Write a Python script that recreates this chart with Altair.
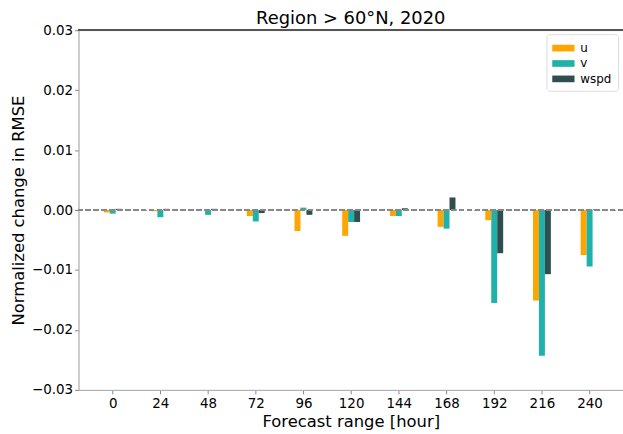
import altair as alt
import pandas as pd

hours = [0, 24, 48, 72, 96, 120, 144, 168, 192, 216, 240]
u_vals = [-0.0004, -0.0002, 0.0, -0.0010, -0.0035, -0.0043, -0.0010, -0.0028, -0.0017, -0.0151, -0.0075]
v_vals = [-0.0006, -0.0012, -0.0008, -0.0019, 0.0004, -0.0020, -0.0010, -0.0031, -0.0155, -0.0243, -0.0094]
wspd_vals = [0.0002, 0.0002, 0.0002, -0.0005, -0.0008, -0.0020, 0.0003, 0.0021, -0.0072, -0.0107, 0.0001]
series_names = ["u", "v", "wspd"]
colors = ["#FFA500", "#20B2AA", "#2F4F4F"]
y_ticks = [-0.03, -0.02, -0.01, 0.0, 0.01, 0.02, 0.03]

rows = []
for name, vals in zip(series_names, [u_vals, v_vals, wspd_vals]):
    for h, val in zip(hours, vals):
        rows.append({"hour": h, "series": name, "value": val})
df = pd.DataFrame(rows)

FONT = "DejaVu Sans"

xscale = alt.Scale(domain=[-17.2, 256.8], nice=False, zero=False)
yscale = alt.Scale(domain=[-0.03, 0.03], nice=False)

bars = alt.Chart(df).transform_calculate(
    off="datum.series == 'u' ? -3 : (datum.series == 'v' ? 0 : 3)"
).transform_calculate(
    x0="datum.hour + datum.off - 1.5",
    x1="datum.hour + datum.off + 1.5",
).mark_bar().encode(
    x=alt.X("x0:Q", scale=xscale,
            axis=alt.Axis(values=hours, title="Forecast range [hour]", grid=False,
                          labelFontSize=13.5, titleFontSize=16.5, labelFont=FONT, titleFont=FONT,
                          labelColor="#000", titleColor="#000", titleFontWeight="normal",
                          domainColor="#aaaaaa", tickColor="#888888", tickSize=4,
                          labelPadding=3, titlePadding=3)),
    x2="x1:Q",
    y=alt.Y("value:Q", scale=yscale,
            axis=alt.Axis(values=y_ticks, format=".2f", title="Normalized change in RMSE",
                          grid=False, labelFontSize=13.5, titleFontSize=16.5,
                          labelFont=FONT, titleFont=FONT, labelColor="#000", titleColor="#000",
                          titleFontWeight="normal", domainColor="#aaaaaa", tickColor="#888888",
                          tickSize=4, labelPadding=2, titlePadding=5)),
    y2=alt.datum(0),
    color=alt.Color("series:N", scale=alt.Scale(domain=series_names, range=colors),
                    legend=alt.Legend(title=None, orient="none", legendX=471, legendY=4,
                                      labelFont=FONT, labelFontSize=12, labelColor="#000",
                                      symbolType="M-1.4,-0.42L1.4,-0.42L1.4,0.42L-1.4,0.42Z",
                                      symbolSize=256, symbolStrokeWidth=0, symbolOpacity=1,
                                      symbolOffset=3,
                                      rowPadding=1.5, labelOffset=9,
                                      padding=6, strokeColor="#dddddd", cornerRadius=3,
                                      fillColor="white")),
)

zero_line = alt.Chart(df).mark_rule(color="#888888", strokeDash=[5, 3], strokeWidth=1.3).encode(
    y=alt.datum(0, scale=yscale)
)
top_line = alt.Chart(df).mark_rule(color="#555555", strokeWidth=1).encode(
    y=alt.datum(0.03, scale=yscale)
)

chart = alt.layer(bars, zero_line, top_line).properties(
    width=548, height=362,
    title=alt.Title("Region > 60°N, 2020", font=FONT, fontSize=18, fontWeight="normal",
                    color="#000", offset=0, dy=5),
    autosize=alt.AutoSizeParams(type="none"),
    padding={"left": 79, "top": 29, "right": 0, "bottom": 43},
).configure_view(stroke=None).configure(background="white")

chart.save("out.html", embed_options={"renderer": "svg", "actions": False})
